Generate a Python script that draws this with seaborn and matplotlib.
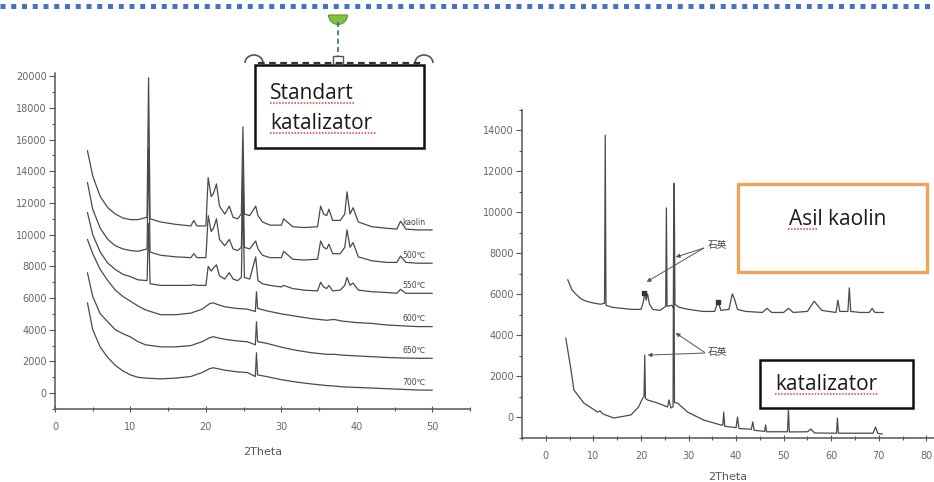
import matplotlib
matplotlib.use("Agg")
import matplotlib.pyplot as plt
import matplotlib.patches as mpatches
from matplotlib.ticker import MultipleLocator
import seaborn as sns

# ---- left panel: kaolin calcined at different temperatures ----
crys_x = [4.3, 5, 6, 7, 8, 9, 10, 11, 12.2, 12.4, 12.6, 14, 16, 18, 18.4, 18.8,
          20.0, 20.3, 20.7, 21.0, 21.4, 21.8, 22.5, 23.1, 23.6, 24.2, 24.7, 24.9,
          25.1, 25.8, 26.6, 26.9, 27.5, 28.5, 30.0, 30.3, 31.5, 33, 34.8, 35.2,
          35.6, 36.0, 36.3, 36.8, 37.8, 38.4, 38.7, 39.1, 39.5, 40.2, 42, 44,
          45.3, 45.8, 46.5, 48, 50]
kaolin_y = [15300, 13700, 12400, 11700, 11300, 11050, 10950, 10950, 11100, 19900,
            11000, 10800, 10650, 10550, 10900, 10550, 10550, 13600, 12400, 12600,
            13200, 11800, 11300, 11800, 11100, 11000, 11300, 16800, 11300, 11200,
            11800, 11200, 10800, 10600, 10600, 11000, 10500, 10450, 10500, 11800,
            11300, 11200, 11600, 10900, 10900, 11300, 12700, 11300, 11700, 10800,
            10500, 10400, 10350, 10850, 10350, 10300, 10300]
t500_y = [13300, 11600, 10400, 9700, 9300, 9100, 9000, 8950, 9100, 15500, 8900,
          8700, 8600, 8550, 8800, 8550, 8550, 11200, 10200, 10400, 11000, 9700,
          9300, 9700, 9100, 9000, 9200, 14300, 9200, 9100, 9600, 9100, 8700, 8550,
          8550, 8950, 8450, 8400, 8450, 9600, 9200, 9100, 9400, 8800, 8800, 9200,
          10300, 9200, 9500, 8600, 8350, 8250, 8250, 8650, 8250, 8200, 8200]
t550_y = [11400, 10000, 8900, 8200, 7800, 7500, 7350, 7150, 7100, 10700, 6900,
          6800, 6800, 6800, 6850, 6800, 6800, 8000, 7700, 7900, 8100, 7400, 7200,
          7600, 7200, 7100, 7300, 12600, 7300, 7200, 8600, 7100, 6900, 6800, 6700,
          6800, 6600, 6500, 6450, 7000, 6700, 6600, 6800, 6450, 6500, 6800, 7300,
          6800, 6950, 6500, 6400, 6350, 6300, 6550, 6300, 6300, 6300]

amor_x = [4.3, 5, 6, 7, 8, 9, 10, 11, 12, 14, 16, 18, 19.5, 20.5, 21.0, 21.5, 22.5,
          24, 25.5, 26.55, 26.7, 26.85, 28, 30, 32, 34, 36, 37, 38, 40, 42, 44,
          46, 48, 50]
t600_y = [9700, 8800, 7800, 7100, 6500, 6100, 5800, 5500, 5250, 4950, 4950, 5050,
          5300, 5650, 5700, 5600, 5450, 5350, 5300, 5150, 6400, 5350, 5200, 5000,
          4850, 4700, 4600, 4650, 4550, 4450, 4400, 4300, 4250, 4200, 4200]
t650_y = [7600, 6100, 5000, 4500, 4000, 3750, 3550, 3250, 3050, 2920, 2920, 3000,
          3250, 3500, 3560, 3500, 3400, 3300, 3240, 3050, 4500, 3250, 3150, 2900,
          2700, 2550, 2450, 2450, 2400, 2350, 2300, 2250, 2220, 2200, 2200]
t700_y = [5700, 4000, 2900, 2250, 1750, 1400, 1150, 1000, 950, 900, 950, 1050,
          1300, 1550, 1600, 1550, 1450, 1350, 1300, 1050, 2550, 1150, 1050, 850,
          700, 580, 480, 450, 400, 360, 320, 280, 240, 200, 190]

left_names = ["kaolin", "500℃", "550℃", "600℃", "650℃", "700℃"]

# ---- right panel: raw kaolin and catalyst ----
raw_x = [4.6, 5.5, 6.5, 7.5, 8.5, 10, 11.5, 12.35, 12.5, 12.65, 14, 16, 18, 20,
         20.5, 20.8, 21.1, 21.4, 21.8, 22.5, 24, 25.2, 25.35, 25.5, 26.5, 26.85,
         27.0, 27.15, 28, 30, 33, 35.5, 36.2, 36.8, 38.5, 39.2, 39.6, 40.3, 42,
         45.5, 46.5, 47.5, 50, 51, 52, 55, 56.4, 58, 61.0, 61.4, 61.8, 63.5, 63.8,
         64.1, 66, 68, 68.6, 69.2, 71]
raw_y = [6700, 6200, 5950, 5750, 5650, 5560, 5500, 5550, 13750, 5450, 5350, 5300,
         5250, 5250, 5600, 6100, 5700, 6000, 5500, 5250, 5200, 5400, 10200, 5400,
         5450, 5300, 11400, 5500, 5350, 5250, 5150, 5150, 5650, 5200, 5250, 6000,
         5800, 5250, 5150, 5100, 5300, 5100, 5100, 5300, 5100, 5150, 5650, 5200,
         5100, 5700, 5150, 5150, 6300, 5150, 5100, 5100, 5300, 5100, 5100]
cat_x = [4.2, 5.3, 5.9, 8, 10.9, 11.4, 12.0, 14.3, 17.9, 19.5, 20.4, 20.65, 20.8,
         20.95, 21.4, 23.5, 25.6, 25.9, 26.3, 26.75, 26.9, 27.05, 27.7, 29.8, 33.2,
         36.8, 37.2, 37.4, 37.6, 40.0, 40.3, 40.6, 43.2, 43.5, 43.8, 46.0, 46.2,
         46.4, 50.8, 51.0, 51.2, 55.0, 55.7, 56.5, 61.1, 61.3, 61.5, 68.8, 69.3,
         69.8, 70.8]
cat_y = [3850, 2300, 1320, 680, 240, 300, 150, -50, 100, 490, 930, 1000, 3020, 900,
         830, 680, 490, 830, 440, 500, 11400, 700, 680, 240, -150, -390, -400, 240,
         -450, -520, 0, -560, -600, -240, -650, -700, -390, -720, -720, 340, -730,
         -720, -590, -780, -790, -50, -790, -790, -490, -800, -830]
mark_x = [20.6, 36.1]
mark_y = [6050, 5600]

W, H = 934, 482
LINE = "#4a4a4a"
TICK = "#666666"

sns.set_style("ticks")
plt.rcParams["font.family"] = ["DejaVu Sans"]

fig = plt.figure(figsize=(W / 100, H / 100), dpi=100)


def frame(l, t, r, b):
    return [l / W, 1 - b / H, (r - l) / W, (b - t) / H]


def style_axis(ax):
    sns.despine(ax=ax)
    for s in ("left", "bottom"):
        ax.spines[s].set_color("#555555")
        ax.spines[s].set_linewidth(1.1)
    ax.tick_params(axis="both", which="both", colors="#555555", labelcolor=TICK,
                   labelsize=7, width=0.8)
    ax.tick_params(axis="y", which="major", direction="out", length=4, pad=2)
    ax.tick_params(axis="y", which="minor", direction="out", length=2)
    ax.tick_params(axis="x", which="major", direction="inout", length=5, pad=7)
    ax.tick_params(axis="x", which="minor", direction="inout", length=3)
    ax.xaxis.set_minor_locator(MultipleLocator(5))
    ax.yaxis.set_minor_locator(MultipleLocator(1000))


ax1 = fig.add_axes(frame(55, 73, 470, 409))
left_series = [(crys_x, kaolin_y), (crys_x, t500_y), (crys_x, t550_y),
               (amor_x, t600_y), (amor_x, t650_y), (amor_x, t700_y)]
for (xs, ys), name in zip(left_series, left_names):
    sns.lineplot(x=xs, y=ys, ax=ax1, color=LINE, linewidth=0.9,
                 estimator=None, sort=False)
    ax1.text(47.6, ys[-1] + 480, name, fontsize=5.5, color="#444444",
             ha="center", va="center")
ax1.set_xlim(0, 55)
ax1.set_ylim(-1000, 20200)
ax1.set_xticks(range(0, 51, 10))
ax1.set_yticks(range(0, 20001, 2000))
style_axis(ax1)
ax1.set_xlabel("2Theta", fontsize=8, color="#555555", labelpad=11)

ax2 = fig.add_axes(frame(522, 109.5, 934, 437.5))
sns.lineplot(x=raw_x, y=raw_y, ax=ax2, color=LINE, linewidth=0.9,
             estimator=None, sort=False)
sns.lineplot(x=cat_x, y=cat_y, ax=ax2, color=LINE, linewidth=0.9,
             estimator=None, sort=False)
ax2.scatter(mark_x, mark_y, marker="s", s=7, color="#333333", zorder=3)
ax2.set_xlim(-5, 81.6)
ax2.set_ylim(-1000, 15000)
ax2.set_xticks(range(0, 81, 10))
ax2.set_yticks(range(0, 14001, 2000))
style_axis(ax2)
ax2.set_xlabel("2Theta", fontsize=8, color="#555555", labelpad=8)

cjk = ["Noto Sans CJK SC", "DejaVu Sans"]
arrow = dict(arrowstyle="-|>", color="#555555", lw=0.7, mutation_scale=6,
             shrinkA=0, shrinkB=0)
ax2.text(34.0, 8400, "石英", fontsize=7, family=cjk, color="#444444", va="center")
ax2.annotate("", xy=(21.2, 6590), xytext=(33.2, 8240), arrowprops=arrow)
ax2.annotate("", xy=(27.3, 7800), xytext=(33.2, 8240), arrowprops=arrow)
ax2.text(34.0, 3150, "石英", fontsize=7, family=cjk, color="#444444", va="center")
ax2.annotate("", xy=(21.4, 3020), xytext=(33.4, 3120), arrowprops=arrow)
ax2.annotate("", xy=(27.3, 4100), xytext=(33.4, 3150), arrowprops=arrow)

# ---- overlay: document decorations in pixel coordinates ----
ov = fig.add_axes([0, 0, 1, 1], zorder=10)
ov.set_xlim(0, W)
ov.set_ylim(H, 0)
ov.axis("off")
ov.patch.set_alpha(0)

ov.plot([0, W], [5.5, 5.5], color="#4472C4", lw=3.6, dashes=(1, 1.15),
        dash_capstyle="butt")

ov.add_patch(mpatches.Rectangle((255, 65), 169, 83, facecolor="white",
                                edgecolor="#111111", lw=1.8))
ov.plot([258, 422], [63, 63], color="#333333", lw=1.6, dashes=(3, 2))
ov.add_patch(mpatches.Arc((254, 63), 18, 16, theta1=180, theta2=360,
                          color="#555555", lw=1.2))
ov.add_patch(mpatches.Arc((424, 63), 18, 16, theta1=180, theta2=360,
                          color="#555555", lw=1.2))
ov.plot([338, 338], [22, 56], color="#3a6a80", lw=1.2, dashes=(3, 2))
ov.add_patch(mpatches.Rectangle((333, 56), 10, 8, facecolor="white",
                                edgecolor="#555555", lw=1.0))
ov.add_patch(mpatches.Wedge((338, 15), 9.5, 0, 180, facecolor="#7dc242",
                            edgecolor="#5a9a2a", lw=0.8))

ov.add_patch(mpatches.Rectangle((738, 184), 189, 88, facecolor="white",
                                edgecolor="#F0A35E", lw=2.4))
ov.add_patch(mpatches.Rectangle((760, 360), 153, 48, facecolor="white",
                                edgecolor="#111111", lw=1.8))

box_font = dict(family=["Open Sans", "DejaVu Sans"], fontsize=15, color="#1a1a1a",
                va="baseline")
ov.text(270, 99, "Standart", ha="left", **box_font)
ov.text(270, 129, "katalizator", ha="left", **box_font)
ov.text(838, 225, "Asil kaolin", ha="center", **box_font)
ov.text(775, 390, "katalizator", ha="left", **box_font)

red = dict(color="#e03a3a", lw=1.1, dashes=(1, 1))
ov.plot([270, 355], [103, 103], **red)
ov.plot([270, 376], [133, 133], **red)
ov.plot([788, 818], [229, 229], **red)
ov.plot([775, 879], [394, 394], **red)

fig.savefig("out.png", dpi=100)
